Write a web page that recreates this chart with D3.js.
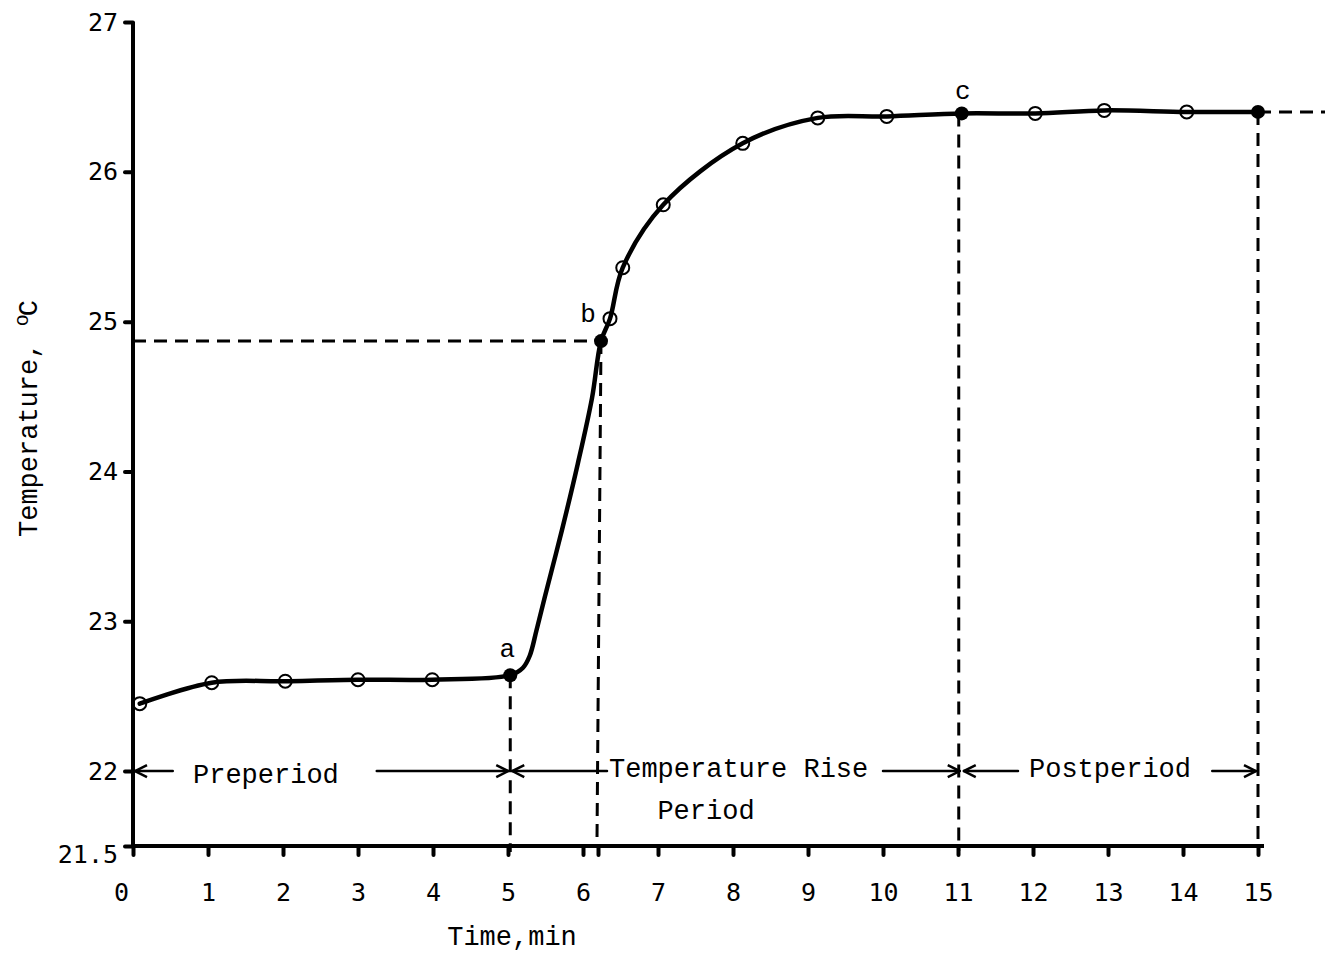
<!DOCTYPE html>
<html>
<head>
<meta charset="utf-8">
<script src="https://cdn.jsdelivr.net/npm/d3@7"></script>
<style>
  html, body { margin: 0; padding: 0; background: #fff; }
  svg { display: block; }
</style>
</head>
<body>
<script>
// Calorimeter run: temperature readings against time.
// Open circles: readings taken every minute (and a few extra during the rise).
const readingTimes = [0.09, 1.05, 2.03, 3.0, 3.99, 6.36, 6.53, 7.07, 8.13, 9.13, 10.05, 12.03, 12.95, 14.05];
const readingTemps = [22.45, 22.59, 22.60, 22.61, 22.61, 25.02, 25.36, 25.78, 26.19, 26.36, 26.37, 26.39, 26.41, 26.40];

// Filled points marking the start, the 60% point and the end of the rise, and the last reading.
const markNames = ["a", "b", "c", ""];
const markTimes = [5.03, 6.24, 11.05, 15.0];
const markTemps = [22.64, 24.87, 26.39, 26.40];

// Points along the drawn curve through the steep part of the rise (between a and b).
const traceTimes = [5.2, 5.29, 5.38, 5.49, 5.72, 5.93, 6.12];
const traceTemps = [22.69, 22.77, 22.94, 23.16, 23.61, 24.05, 24.49];

// Axis ticks.
const timeTicks = [0, 1, 2, 3, 4, 5, 6, 6.2, 7, 8, 9, 10, 11, 12, 13, 14, 15];
const tempTicks = [21.5, 22, 23, 24, 25, 26, 27];

const W = 1325, H = 955;
const svg = d3.select("body").append("svg").attr("width", W).attr("height", H);

const x = d3.scaleLinear().domain([0, 15]).range([133, 1258]);
const y = d3.scaleLinear().domain([21.5, 27]).range([846, 22]);

const mono = "'Liberation Mono', 'Courier New', monospace";
const digits = "'DejaVu Sans Mono', monospace";

// Arrowhead for the period arrows
svg.append("defs").append("marker")
  .attr("id", "head")
  .attr("markerUnits", "userSpaceOnUse")
  .attr("viewBox", "-1 -8 14 16")
  .attr("markerWidth", 14).attr("markerHeight", 16)
  .attr("refX", 12).attr("refY", 0)
  .attr("orient", "auto")
  .append("path")
  .attr("d", "M0,-6 L12,0 L0,6")
  .attr("fill", "none").attr("stroke", "#000").attr("stroke-width", 2.5);

// ---- Axes ----
const xAxis = d3.axisBottom(x)
  .tickValues(timeTicks)
  .tickSize(9).tickSizeOuter(0).tickPadding(28)
  .tickFormat(d => d === 6.2 ? "" : d);
const gx = svg.append("g").attr("transform", `translate(0,${y(21.5)})`).call(xAxis);
gx.select(".domain").remove();
gx.selectAll(".tick line").attr("stroke", "#000").attr("stroke-width", 4).attr("stroke-linecap", "round");
gx.selectAll(".tick text")
  .attr("font-family", digits).attr("font-size", 25).attr("fill", "#000")
  .attr("dx", d => d === 0 ? -12 : 0);

const yAxis = d3.axisLeft(y)
  .tickValues(tempTicks)
  .tickSize(8).tickSizeOuter(0).tickPadding(7)
  .tickFormat(d => d === 21.5 ? "21.5" : d);
const gy = svg.append("g").attr("transform", `translate(${x(0)},0)`).call(yAxis);
gy.select(".domain").remove();
gy.selectAll(".tick line").attr("stroke", "#000").attr("stroke-width", 4).attr("stroke-linecap", "round");
gy.selectAll(".tick text")
  .attr("font-family", digits).attr("font-size", 25).attr("fill", "#000")
  .attr("y", d => d === 21.5 ? 8 : 0);

// Axis lines
svg.append("line")
  .attr("x1", x(0)).attr("x2", x(0)).attr("y1", y(27)).attr("y2", y(21.5) + 2)
  .attr("stroke", "#000").attr("stroke-width", 4);
svg.append("line")
  .attr("x1", x(0) - 2).attr("x2", x(15) + 6).attr("y1", y(21.5)).attr("y2", y(21.5))
  .attr("stroke", "#000").attr("stroke-width", 4);

// Axis titles
svg.append("text")
  .attr("x", 512).attr("y", 945)
  .attr("text-anchor", "middle")
  .attr("font-family", mono).attr("font-size", 27)
  .text("Time,min");

const yTitle = svg.append("text")
  .attr("transform", `translate(37,537) rotate(-90)`)
  .attr("font-family", mono).attr("font-size", 27);
yTitle.append("tspan").text("Temperature, ");
yTitle.append("tspan").attr("font-size", 20).attr("dy", -9).text("o");
yTitle.append("tspan").attr("dy", 9).attr("dx", -2).text("C");

// ---- Dashed construction lines ----
const dashed = svg.append("g")
  .attr("stroke", "#000").attr("stroke-width", 3).attr("stroke-dasharray", "13,8").attr("fill", "none");

const [ta, tb, tc, tEnd] = markTimes;
const [Ta, Tb, Tc, TEnd] = markTemps;

dashed.append("line").attr("x1", x(0)).attr("x2", x(tb)).attr("y1", y(Tb)).attr("y2", y(Tb));
dashed.append("line").attr("x1", x(ta)).attr("x2", x(ta)).attr("y1", y(Ta)).attr("y2", y(21.5) + 6);
dashed.append("line").attr("x1", x(tb)).attr("x2", x(tb) - 4).attr("y1", y(Tb)).attr("y2", y(21.5) - 6);
dashed.append("line").attr("x1", x(tc) - 3).attr("x2", x(tc) - 3).attr("y1", y(Tc)).attr("y2", y(21.5) + 5);
dashed.append("line").attr("x1", x(tEnd)).attr("x2", x(tEnd)).attr("y1", y(TEnd)).attr("y2", y(21.5));
dashed.append("line").attr("x1", x(tEnd)).attr("x2", W).attr("y1", y(TEnd)).attr("y2", y(TEnd));

// ---- Temperature curve ----
const curvePts = [];
readingTimes.forEach((t, i) => curvePts.push([t, readingTemps[i]]));
markTimes.forEach((t, i) => curvePts.push([t, markTemps[i]]));
traceTimes.forEach((t, i) => curvePts.push([t, traceTemps[i]]));
curvePts.sort((p, q) => p[0] - q[0]);

const line = d3.line()
  .x(d => x(d[0])).y(d => y(d[1]))
  .curve(d3.curveCatmullRom.alpha(0.5));

svg.append("path")
  .datum(curvePts)
  .attr("d", line)
  .attr("fill", "none").attr("stroke", "#000").attr("stroke-width", 4.5)
  .attr("stroke-linejoin", "round").attr("stroke-linecap", "round");

// Readings
svg.append("g").selectAll("circle")
  .data(readingTimes.map((t, i) => [t, readingTemps[i]]))
  .join("circle")
  .attr("cx", d => x(d[0])).attr("cy", d => y(d[1])).attr("r", 6.5)
  .attr("fill", "none").attr("stroke", "#000").attr("stroke-width", 2);

// Marked points
const marks = markTimes.map((t, i) => ({ t, T: markTemps[i], name: markNames[i] }));
svg.append("g").selectAll("circle")
  .data(marks)
  .join("circle")
  .attr("cx", d => x(d.t)).attr("cy", d => y(d.T)).attr("r", 7)
  .attr("fill", "#000");

const labelOffset = { a: [-3, -18], b: [-13, -19], c: [1, -14] };
svg.append("g").selectAll("text")
  .data(marks.filter(d => d.name))
  .join("text")
  .attr("x", d => x(d.t) + labelOffset[d.name][0])
  .attr("y", d => y(d.T) + labelOffset[d.name][1])
  .attr("text-anchor", "middle")
  .attr("font-family", mono).attr("font-size", 26)
  .text(d => d.name);

// ---- Period arrows along 22 °C ----
// each pair is [tail, head] in minutes; the arrowhead sits at the second value
const yArrow = y(22);
const arrows = [
  [0.53, 0], [3.25, ta],
  [6.32, ta], [10.0, tc],
  [11.8, tc], [14.39, tEnd]
];
const arrowG = svg.append("g").attr("stroke", "#000").attr("stroke-width", 2.5).attr("fill", "none");
arrows.forEach(([from, to]) => {
  const dir = to > from ? -1 : 1;
  arrowG.append("line")
    .attr("x1", x(from)).attr("x2", x(to) + dir * 2)
    .attr("y1", yArrow).attr("y2", yArrow)
    .attr("stroke-linecap", "round")
    .attr("marker-end", "url(#head)");
});

const periodText = svg.append("g").attr("font-family", mono).attr("font-size", 27).attr("fill", "#000");
periodText.append("text").attr("x", 193).attr("y", yArrow + 12).text("Preperiod");
periodText.append("text").attr("x", 609).attr("y", yArrow + 6).text("Temperature Rise");
periodText.append("text").attr("x", 706).attr("y", yArrow + 48).attr("text-anchor", "middle").text("Period");
periodText.append("text").attr("x", 1029).attr("y", yArrow + 6).text("Postperiod");
</script>
</body>
</html>
